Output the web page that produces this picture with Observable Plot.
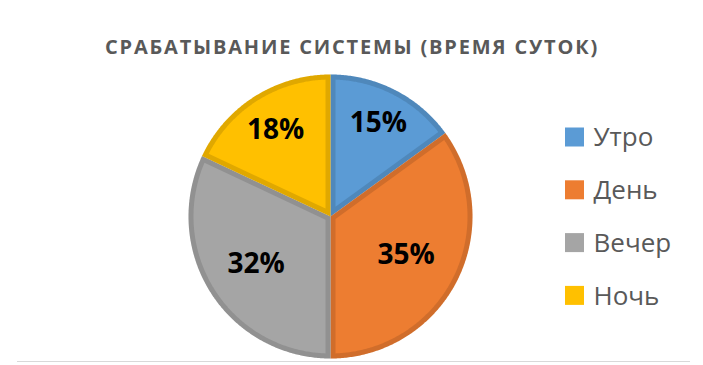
<!DOCTYPE html>
<html><head><meta charset="utf-8">
<script src="https://cdn.jsdelivr.net/npm/d3@7"></script>
<script src="https://cdn.jsdelivr.net/npm/@observablehq/plot@0.6"></script>
<style>
html,body{margin:0;padding:0;background:#fff;}
.ttl text{letter-spacing:1.8px;}
</style></head><body><div id="chart"></div>
<script>
const categories = ["Утро","День","Вечер","Ночь"];
const values = [15,35,32,18];
const labels = ["15%","35%","32%","18%"];
const title = "СРАБАТЫВАНИЕ СИСТЕМЫ (ВРЕМЯ СУТОК)";

const W = 703, H = 365, cx = 330, cy = 216, R = 142, bw = 5;
const fills = ["#5B9BD5","#ED7D31","#A5A5A5","#FFC000"];
const font = "'Open Sans', 'Noto Sans', sans-serif";

const arcs = d3.pie().sort(null).value(d => d)(values);
const pt = (r, a) => [cx + r * Math.sin(a), cy - r * Math.cos(a)];
function arcPts(r, a0, a1) {
  const n = Math.max(8, Math.ceil((a1 - a0) / 0.01));
  return d3.range(n + 1).map(i => pt(r, a0 + (a1 - a0) * i / n));
}
const outer = arcs.map((a, i) => ({
  type: "Feature", properties: {cat: categories[i]},
  geometry: {type: "Polygon", coordinates: [[[cx, cy], ...arcPts(R, a.startAngle, a.endAngle), [cx, cy]]]}
}));
const inner = arcs.map((a, i) => {
  const th = a.endAngle - a.startAngle, mid = (a.startAngle + a.endAngle) / 2;
  const ri = R - bw, da = Math.asin(bw / ri);
  const apex = pt(bw / Math.sin(th / 2), mid);
  return {
    type: "Feature", properties: {cat: categories[i]},
    geometry: {type: "Polygon", coordinates: [[apex, ...arcPts(ri, a.startAngle + da, a.endAngle - da), apex]]}
  };
});
const labelData = arcs.map((a, i) => {
  const th = a.endAngle - a.startAngle, mid = (a.startAngle + a.endAngle) / 2;
  const f = 0.85 - 0.002 * th * 180 / Math.PI;
  const [x, y] = pt(R * f, mid);
  return {x, y, label: labels[i]};
});
const legendData = categories.map((c, i) => ({cat: c, x: 574, y: 136.5 + i * 52.8}));

const chart = Plot.plot({
  width: W, height: H, margin: 0,
  projection: "identity",
  color: {domain: categories, range: fills},
  style: {background: "#fff", fontFamily: font},
  marks: [
    Plot.geo(outer, {fill: d => d.properties.cat}),
    Plot.geo(outer, {fill: "black", fillOpacity: 0.12}),
    Plot.geo(inner, {fill: d => d.properties.cat}),
    Plot.text(labelData, {x: "x", y: "y", text: "label", fontSize: 28, fontWeight: "bold", fill: "#000", fontFamily: font}),
    Plot.dot(legendData, {x: "x", y: "y", fill: "cat", symbol: "square", r: 19 / Math.sqrt(Math.PI)}),
    Plot.text(legendData, {x: d => d.x + 19, y: d => d.y + 1, text: "cat", textAnchor: "start", fontSize: 26, fill: "#595959", fontFamily: font}),
    Plot.text([title], {frameAnchor: "top", lineAnchor: "middle", dy: 47, text: d => d, fontSize: 20, fontWeight: "bold", fill: "#595959", fontFamily: font, className: "ttl"}),
    Plot.frame({anchor: "bottom", stroke: "#d9d9d9", insetLeft: 17, insetRight: 14, insetBottom: 4})
  ]
});
document.getElementById("chart").appendChild(chart);
</script></body></html>
